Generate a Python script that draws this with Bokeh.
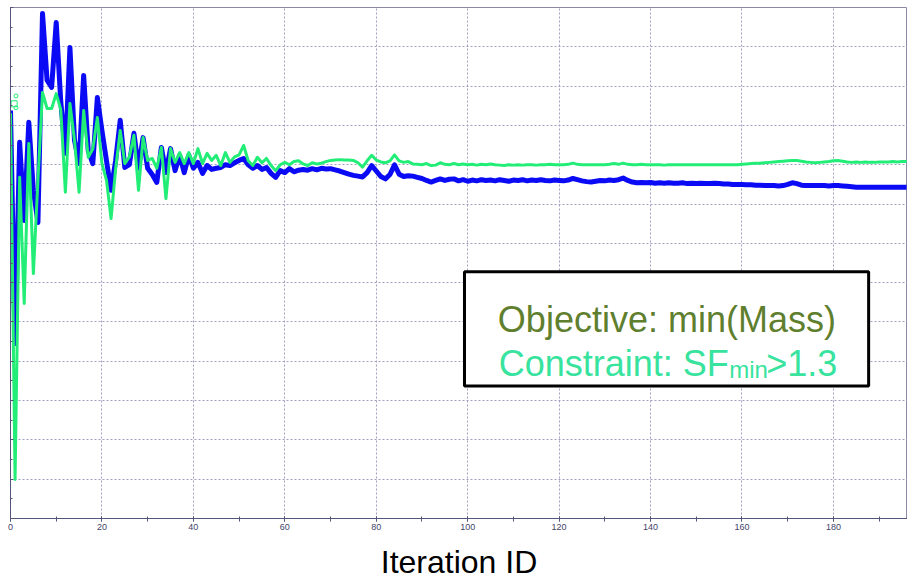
from bokeh.plotting import figure
from bokeh.models import Range1d, SingleIntervalTicker, Label, BoxAnnotation, CustomJSTickFormatter
from bokeh.embed import file_html
from bokeh.resources import INLINE

# ---------------- data ----------------
iterations = list(range(197))

# objective (Mass) history - blue
mass = [
    10.38, 4.45, 9.57, 7.58, 10.08, 8.35, 7.53, 12.85, 11.15, 10.97,
    12.62, 10.60, 9.29, 11.98, 9.62, 9.03, 11.27, 9.36, 9.03, 10.71,
    9.87, 9.10, 8.35, 9.11, 10.13, 8.93, 9.00, 9.80, 8.91, 9.69,
    8.91, 8.75, 8.55, 9.44, 8.80, 9.41, 8.85, 9.24, 8.80, 9.24,
    8.91, 9.06, 8.78, 8.98, 8.88, 8.91, 8.93, 9.00, 8.98, 9.05,
    9.11, 9.16, 9.00, 8.91, 8.98, 8.88, 8.93, 8.78, 8.68, 8.85,
    8.80, 8.90, 8.82, 8.86, 8.88, 8.86, 8.90, 8.87, 8.91, 8.89,
    8.90, 8.87, 8.84, 8.80, 8.76, 8.73, 8.71, 8.69, 8.80, 8.98,
    8.84, 8.70, 8.64, 8.75, 9.00, 8.76, 8.70, 8.72, 8.71, 8.68,
    8.65, 8.60, 8.56, 8.60, 8.64, 8.60, 8.63, 8.64, 8.59, 8.62,
    8.58, 8.61, 8.59, 8.62, 8.60, 8.61, 8.59, 8.62, 8.60, 8.58,
    8.61, 8.60, 8.62, 8.59, 8.61, 8.60, 8.62, 8.60, 8.59, 8.61,
    8.60, 8.59, 8.61, 8.65, 8.62, 8.59, 8.57, 8.56, 8.58, 8.60,
    8.59, 8.61, 8.60, 8.62, 8.66, 8.60, 8.56, 8.54, 8.55, 8.54,
    8.55, 8.53, 8.54, 8.53, 8.54, 8.53, 8.53, 8.54, 8.52, 8.53,
    8.52, 8.53, 8.52, 8.52, 8.53, 8.52, 8.51, 8.51, 8.50, 8.50,
    8.50, 8.49, 8.49, 8.48, 8.48, 8.47, 8.47, 8.47, 8.46, 8.47,
    8.50, 8.54, 8.52, 8.48, 8.47, 8.47, 8.47, 8.47, 8.47, 8.46,
    8.47, 8.47, 8.46, 8.45, 8.44, 8.43, 8.43, 8.43, 8.43, 8.43,
    8.43, 8.43, 8.43, 8.43, 8.43, 8.43, 8.43,
]

# constraint (SF min) history - green
sf_min = [
    10.31, 0.99, 8.68, 5.47, 9.54, 6.23, 8.60, 10.84, 10.43, 10.43,
    10.81, 10.40, 8.30, 10.56, 9.62, 8.30, 10.38, 9.19, 9.40, 10.20,
    9.03, 8.60, 7.63, 8.90, 9.87, 9.03, 9.20, 9.75, 8.35, 9.69,
    9.11, 9.16, 8.91, 9.44, 8.14, 9.41, 9.06, 9.31, 9.03, 9.31,
    9.03, 9.41, 9.03, 9.29, 9.11, 9.24, 8.98, 9.31, 9.06, 9.20,
    9.25, 9.49, 9.10, 8.98, 9.19, 9.05, 9.16, 8.98, 8.85, 9.00,
    9.06, 9.00, 9.08, 9.10, 9.02, 8.98, 9.05, 9.02, 9.04, 9.08,
    9.11, 9.12, 9.13, 9.12, 9.12, 9.11, 9.05, 8.94, 9.10, 9.24,
    9.12, 9.07, 9.05, 9.10, 9.25, 9.10, 9.06, 9.08, 9.02, 9.01,
    9.00, 9.03, 8.98, 8.99, 9.05, 9.01, 9.00, 9.03, 9.00, 9.02,
    9.00, 9.01, 8.99, 9.01, 9.00, 9.02, 9.00, 8.99, 8.98, 9.00,
    8.99, 9.00, 8.99, 9.00, 9.00, 8.99, 9.00, 9.00, 9.01, 9.00,
    9.00, 9.00, 9.01, 9.04, 9.01, 9.00, 9.00, 9.00, 9.00, 9.00,
    9.00, 9.01, 9.03, 9.01, 9.04, 9.01, 9.00, 9.00, 9.01, 9.00,
    9.00, 9.00, 9.00, 8.99, 9.00, 9.00, 9.00, 9.00, 9.00, 9.00,
    9.00, 9.00, 9.00, 9.00, 9.00, 9.00, 9.00, 9.00, 9.00, 9.00,
    9.01, 9.02, 9.03, 9.04, 9.04, 9.05, 9.06, 9.07, 9.08, 9.09,
    9.10, 9.11, 9.11, 9.09, 9.07, 9.06, 9.05, 9.06, 9.07, 9.08,
    9.10, 9.11, 9.09, 9.07, 9.06, 9.07, 9.06, 9.07, 9.06, 9.06,
    9.07, 9.07, 9.07, 9.08, 9.07, 9.08, 9.08,
]

# little start markers near the first iteration
start_sq_x = [0.8]
start_sq_y = [10.55]
start_o_x = [1.2, 1.2]
start_o_y = [10.75, 10.45]

x_label = "Iteration ID"
objective_text = "Objective: min(Mass)"
constraint_text = "Constraint: SF"
constraint_sub = "min"
constraint_tail = ">1.3"

# ---------------- figure ----------------
p = figure(width=907, height=582, output_backend="svg", toolbar_location=None,
           x_range=Range1d(0, 196.2), y_range=Range1d(0, 13),
           min_border_left=10, min_border_right=0, min_border_top=7,
           min_border_bottom=64)
p.background_fill_color = "white"
p.border_fill_color = "white"
p.outline_line_color = "#8a8aa6"
p.outline_line_width = 1

axis_col = "#55557a"
grid_col = "#a0a0c0"

p.xaxis.ticker = SingleIntervalTicker(interval=20, num_minor_ticks=2)
p.yaxis.ticker = SingleIntervalTicker(interval=1, num_minor_ticks=2)
p.xgrid.ticker = SingleIntervalTicker(interval=20)
p.ygrid.ticker = SingleIntervalTicker(interval=1)
p.grid.grid_line_color = grid_col
p.grid.grid_line_dash = "2 2"
p.grid.grid_line_width = 1

p.axis.axis_line_color = axis_col
p.axis.major_tick_line_color = axis_col
p.axis.minor_tick_line_color = axis_col

p.xaxis.major_tick_in = 2
p.xaxis.major_tick_out = 3
p.xaxis.minor_tick_in = 2
p.xaxis.minor_tick_out = 3
p.xaxis.major_label_standoff = 2
p.xaxis.major_label_text_font = "Liberation Sans"
p.xaxis.major_label_text_font_size = "9px"
p.xaxis.major_label_text_color = "#44446a"
p.xaxis.axis_label = x_label
p.xaxis.axis_label_text_font = "Liberation Sans"
p.xaxis.axis_label_text_font_size = "32px"
p.xaxis.axis_label_text_font_style = "normal"
p.xaxis.axis_label_text_color = "black"
p.xaxis.axis_label_standoff = 11

p.yaxis.major_tick_in = 3
p.yaxis.major_tick_out = 0
p.yaxis.minor_tick_in = 2
p.yaxis.minor_tick_out = 0
p.yaxis.major_label_standoff = 0
p.yaxis.formatter = CustomJSTickFormatter(code="return ''")

# ---------------- series ----------------
p.line(iterations, mass, line_color="#0a0af5", line_width=5, line_join="round")
p.line(iterations, sf_min, line_color="#22ee77", line_width=3, line_join="round")
p.scatter(start_sq_x, start_sq_y, marker="square", size=6, fill_color=None,
          line_color="#22ee77", line_width=1)
p.scatter(start_o_x, start_o_y, marker="circle", size=4, fill_color=None,
          line_color="#22ee77", line_width=1)

# ---------------- annotation box ----------------
box = BoxAnnotation(left=99.3, right=187.7, bottom=3.37, top=6.28,
                    fill_color="white", fill_alpha=1.0,
                    line_color="black", line_width=3, line_alpha=1.0)
p.add_layout(box)

font = "Liberation Sans"
p.add_layout(Label(x=106.6, y=5.05, text=objective_text, text_font=font,
                   text_font_size="36px", text_color="#5f7f2f",
                   text_baseline="alphabetic"))
p.add_layout(Label(x=106.8, y=3.95, text=constraint_text, text_font=font,
                   text_font_size="36px", text_color="#38e39e",
                   text_baseline="alphabetic"))
p.add_layout(Label(x=157.2, y=3.78, text=constraint_sub, text_font=font,
                   text_font_size="24px", text_color="#38e39e",
                   text_baseline="alphabetic"))
p.add_layout(Label(x=165.3, y=3.95, text=constraint_tail, text_font=font,
                   text_font_size="36px", text_color="#38e39e",
                   text_baseline="alphabetic"))

open("out.html", "w").write(file_html(p, INLINE))
